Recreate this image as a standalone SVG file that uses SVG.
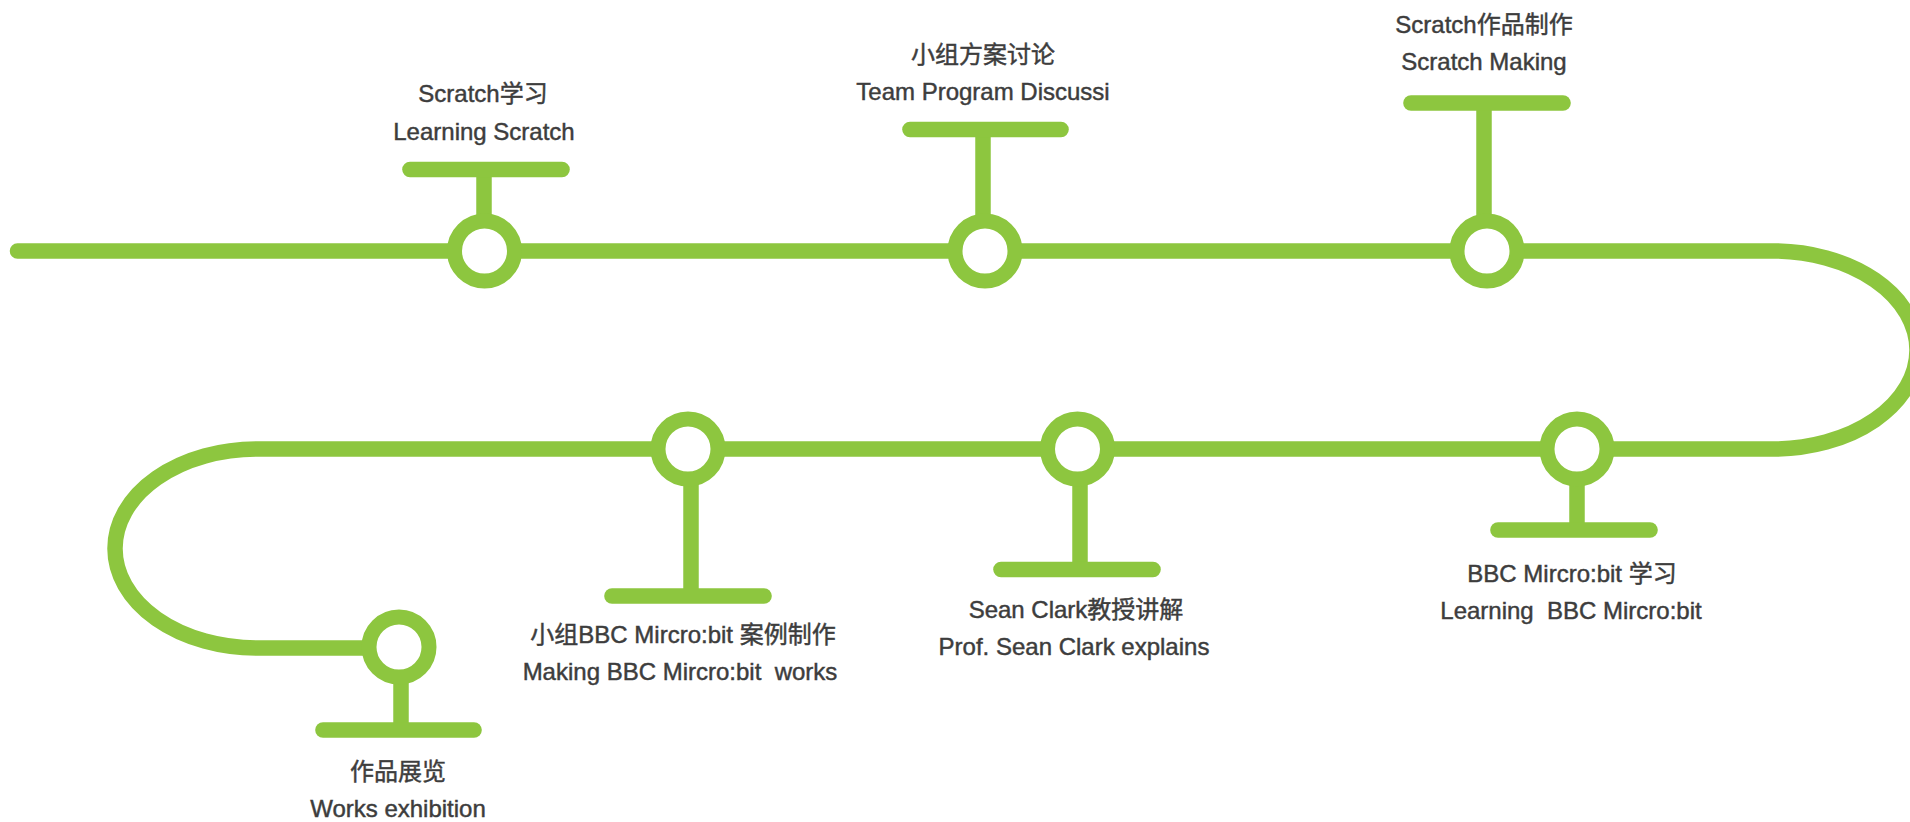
<svg xmlns="http://www.w3.org/2000/svg" width="1910" height="822" viewBox="0 0 1910 822">
<style>
.track{fill:none;stroke:#8dc63f;stroke-width:15.5;stroke-linecap:round}
.stem{stroke:#8dc63f;stroke-width:15.5}
.bar{stroke:#8dc63f;stroke-width:15.6;stroke-linecap:round}
.dot{fill:#ffffff;stroke:#8dc63f;stroke-width:15}
.lbl{font-family:"Liberation Sans","Noto Sans CJK SC",sans-serif;font-size:24px;fill:#3d3d3d;stroke:#3d3d3d;stroke-width:0.45;text-anchor:middle}
</style>
<rect width="1910" height="822" fill="#ffffff"/>
<g id="connectors">
<path class="track" d="M17.5 251 H1773 A144 99 0 0 1 1773 449 H257 A142 99.5 0 0 0 257 648 H399"/>
</g>
<g id="node1">
<line class="stem" x1="484" y1="170" x2="484" y2="220"/>
<line class="bar" x1="410" y1="169.5" x2="562" y2="169.5"/>
<circle class="dot" cx="484.5" cy="251" r="30"/>
<text class="lbl" x="483" y="102">Scratch学习</text>
<text class="lbl" x="484" y="140">Learning Scratch</text>
</g>
<g id="node2">
<line class="stem" x1="983" y1="130" x2="983" y2="220"/>
<line class="bar" x1="910" y1="129.5" x2="1061" y2="129.5"/>
<circle class="dot" cx="985" cy="251" r="30"/>
<text class="lbl" x="983" y="63">小组方案讨论</text>
<text class="lbl" x="983" y="100">Team Program Discussi</text>
</g>
<g id="node3">
<line class="stem" x1="1484" y1="103" x2="1484" y2="220"/>
<line class="bar" x1="1411" y1="103" x2="1563" y2="103"/>
<circle class="dot" cx="1487" cy="251" r="30"/>
<text class="lbl" x="1484" y="33">Scratch作品制作</text>
<text class="lbl" x="1484" y="70">Scratch Making</text>
</g>
<g id="node4">
<line class="stem" x1="1577" y1="480" x2="1577" y2="530"/>
<line class="bar" x1="1498" y1="530" x2="1650" y2="530"/>
<circle class="dot" cx="1577" cy="449" r="30"/>
<text class="lbl" x="1572" y="582">BBC Mircro:bit 学习</text>
<text class="lbl" x="1571" y="619" xml:space="preserve">Learning  BBC Mircro:bit</text>
</g>
<g id="node5">
<line class="stem" x1="1080" y1="480" x2="1080" y2="569.5"/>
<line class="bar" x1="1001" y1="569.5" x2="1153" y2="569.5"/>
<circle class="dot" cx="1077.5" cy="449" r="30"/>
<text class="lbl" x="1076" y="618">Sean Clark教授讲解</text>
<text class="lbl" x="1074" y="655">Prof. Sean Clark explains</text>
</g>
<g id="node6">
<line class="stem" x1="691" y1="480" x2="691" y2="596"/>
<line class="bar" x1="612" y1="596" x2="764" y2="596"/>
<circle class="dot" cx="688" cy="449" r="30"/>
<text class="lbl" x="683" y="643">小组BBC Mircro:bit 案例制作</text>
<text class="lbl" x="680" y="680" xml:space="preserve">Making BBC Mircro:bit  works</text>
</g>
<g id="node7">
<line class="stem" x1="401" y1="678" x2="401" y2="730"/>
<line class="bar" x1="323" y1="730" x2="474" y2="730"/>
<circle class="dot" cx="399" cy="647" r="30"/>
<text class="lbl" x="398" y="780">作品展览</text>
<text class="lbl" x="398" y="817">Works exhibition</text>
</g>
</svg>
